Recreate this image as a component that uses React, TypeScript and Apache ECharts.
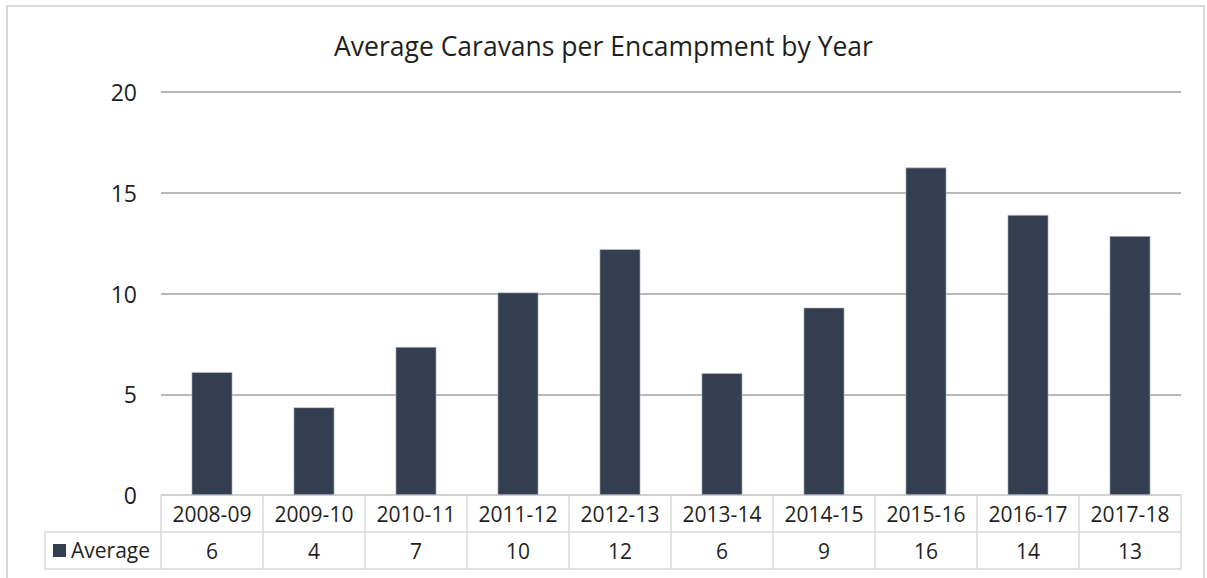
import React, { useEffect, useRef } from "react";
import * as echarts from "echarts";

const categories = ["2008-09", "2009-10", "2010-11", "2011-12", "2012-13", "2013-14", "2014-15", "2015-16", "2016-17", "2017-18"];
const averageValues = [6.1, 4.35, 7.35, 10.05, 12.2, 6.05, 9.3, 16.25, 13.9, 12.85];
const tableLabels = ["6", "4", "7", "10", "12", "6", "9", "16", "14", "13"];
const yTicks = [0, 5, 10, 15, 20];
const seriesName = "Average";
const titleText = "Average Caravans per Encampment by Year";

const FONT = "'Open Sans', sans-serif";
const BAR = "#333f50";
const LINE = "#d9d9d9";
const TEXT = "#1f1f1f";

export default function App() {
  const ref = useRef<HTMLDivElement>(null);
  useEffect(() => {
    if (!ref.current) return;
    const chart = echarts.init(ref.current, null, { renderer: "svg" });
    const gridLeft = 161, gridRight = 1181, gridTop = 92, gridBottom = 495;
    const rowH = 37;
    chart.setOption({
      animation: false,
      backgroundColor: "#ffffff",
      textStyle: { fontFamily: FONT },
      title: {
        text: titleText,
        left: "center",
        top: 27,
        textStyle: { fontFamily: FONT, fontSize: 26.5, fontWeight: "normal", color: TEXT },
      },
      grid: { left: gridLeft, right: 1207 - gridRight, top: gridTop, bottom: 578 - gridBottom, containLabel: false },
      xAxis: [
        {
          type: "category",
          data: categories,
          position: "bottom",
          axisLine: { show: true, lineStyle: { color: LINE, width: 1.5 } },
          axisTick: { show: true, interval: 0, length: rowH * 2, lineStyle: { color: LINE, width: 1.5 } },
          axisLabel: { interval: 0, fontFamily: FONT, fontSize: 21, color: TEXT, margin: 8 },
        },
        {
          type: "category",
          data: tableLabels,
          position: "bottom",
          axisLine: { show: false },
          axisTick: { show: false },
          axisLabel: { interval: 0, fontFamily: FONT, fontSize: 21, color: TEXT, margin: 45 },
        },
      ],
      yAxis: {
        type: "value",
        min: yTicks[0],
        max: yTicks[yTicks.length - 1],
        interval: 5,
        axisLine: { show: false },
        axisTick: { show: false },
        axisLabel: { fontFamily: FONT, fontSize: 23, color: TEXT, margin: 24 },
        splitLine: { lineStyle: { color: "#a0a0a0", width: 1.5 } },
      },
      series: [
        {
          name: seriesName,
          type: "bar",
          xAxisIndex: 0,
          data: averageValues,
          barWidth: "40%",
          itemStyle: { color: BAR, borderColor: "#c8ccd2", borderWidth: 0.6 },
        },
      ],
      graphic: [
        {
          type: "rect",
          shape: { x: 7, y: 6, width: 1197, height: 590 },
          style: { fill: "none", stroke: LINE, lineWidth: 2 },
          silent: true,
        },
        {
          type: "line",
          shape: { x1: 45, y1: gridBottom + rowH, x2: gridRight, y2: gridBottom + rowH },
          style: { stroke: LINE, lineWidth: 1.5 },
        },
        {
          type: "line",
          shape: { x1: 45, y1: gridBottom + rowH * 2, x2: gridRight, y2: gridBottom + rowH * 2 },
          style: { stroke: LINE, lineWidth: 1.5 },
        },
        {
          type: "line",
          shape: { x1: 45, y1: gridBottom + rowH, x2: 45, y2: gridBottom + rowH * 2 },
          style: { stroke: LINE, lineWidth: 1.5 },
        },
        {
          type: "rect",
          shape: { x: 53, y: 544, width: 13, height: 13 },
          style: { fill: BAR },
        },
        {
          type: "text",
          x: 71,
          y: 550,
          style: { text: seriesName, font: `21px ${FONT}`, fill: TEXT, textVerticalAlign: "middle" },
        },
      ],
    });
    return () => chart.dispose();
  }, []);
  return <div ref={ref} style={{ position: "fixed", left: 0, top: 0, width: 1207, height: 578 }} />;
}
